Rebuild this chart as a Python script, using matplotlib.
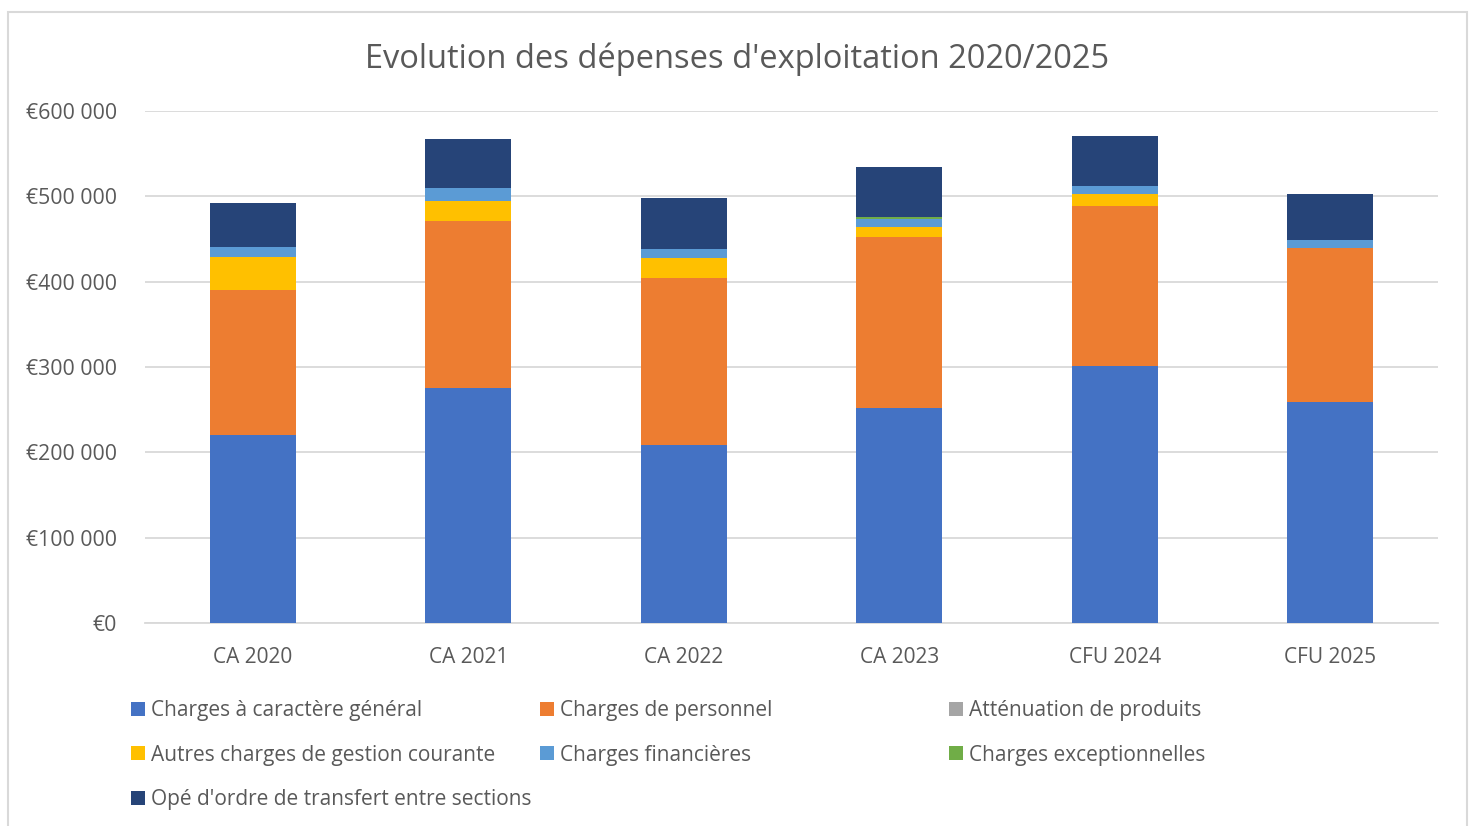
import matplotlib
matplotlib.use("Agg")
import matplotlib.pyplot as plt
from matplotlib.patches import Rectangle, Patch
from matplotlib.ticker import FuncFormatter, MultipleLocator
import numpy as np

plt.rcParams['font.family'] = ['Open Sans', 'DejaVu Sans']

categories = ["CA 2020", "CA 2021", "CA 2022", "CA 2023", "CFU 2024", "CFU 2025"]
series_names = ["Charges à caractère général", "Charges de personnel", "Atténuation de produits",
                "Autres charges de gestion courante", "Charges financières",
                "Charges exceptionnelles", "Opé d'ordre de transfert entre sections"]
charges_generales = [220300, 275400, 208600, 252000, 301200, 259000]
charges_personnel = [170000, 196100, 196100, 200000, 187100, 180500]
attenuation = [0, 0, 0, 0, 0, 0]
autres_charges = [38700, 23000, 22700, 12500, 14500, 0]
charges_financieres = [11700, 15200, 10900, 9000, 9800, 9400]
charges_exceptionnelles = [0, 0, 0, 2300, 0, 0]
ope_ordre = [51600, 57400, 59800, 58700, 58600, 53900]
colors = ["#4472C4", "#ED7D31", "#A5A5A5", "#FFC000", "#5B9BD5", "#70AD47", "#264478"]

W, H = 1472, 826
fig = plt.figure(figsize=(W / 100, H / 100), dpi=100)
ax = fig.add_axes([145 / W, 1 - 623 / H, (1438 - 145) / W, (623 - 111) / H])

data = [charges_generales, charges_personnel, attenuation, autres_charges,
        charges_financieres, charges_exceptionnelles, ope_ordre]
x = np.arange(len(categories))
bottom = np.zeros(len(categories))
handles = []
for name, vals, c in zip(series_names, data, colors):
    vals = np.array(vals, dtype=float)
    ax.bar(x, vals, bottom=bottom, width=0.4, color=c, linewidth=0, zorder=3)
    bottom += vals
    handles.append(Patch(facecolor=c, edgecolor='none', label=name))

ax.set_xlim(-0.5, len(categories) - 0.5)
ax.set_ylim(0, 600000)
ax.yaxis.set_major_locator(MultipleLocator(100000))
ax.yaxis.set_major_formatter(FuncFormatter(lambda v, p: "€0" if v == 0 else "€" + f"{v:,.0f}".replace(",", " ")))
ax.set_xticks(x)
ax.set_xticklabels(categories)
ax.grid(axis='y', color='#d9d9d9', linewidth=1.3, zorder=0)
for s in ['top', 'right', 'left']:
    ax.spines[s].set_visible(False)
ax.spines['bottom'].set_color('#d9d9d9')
ax.spines['bottom'].set_linewidth(1.3)
ax.tick_params(axis='both', length=0, colors='#595959')
ax.tick_params(axis='y', pad=20, labelsize=15.3)
ax.tick_params(axis='x', pad=17.5, labelsize=15)

fig.text(737 / W, 1 - 59 / H, "Evolution des dépenses d'exploitation 2020/2025",
         ha='center', va='center', fontsize=23.5, color='#595959')

# chart border
fig.patches.append(Rectangle((8 / W, -0.01), (1467 - 8) / W, 1 - 12 / H + 0.01,
                             transform=fig.transFigure, fill=False,
                             edgecolor='#d9d9d9', linewidth=1.5))

cols = [[0, 3, 6], [1, 4], [2, 5]]
col_x = [131, 540, 949]
for cx, idxs in zip(col_x, cols):
    fig.legend([handles[i] for i in idxs], [series_names[i] for i in idxs],
               loc='upper left', bbox_to_anchor=(cx / W, 1 - 700 / H),
               frameon=False, fontsize=15, labelcolor='#595959',
               handlelength=0.65, handleheight=0.65, handletextpad=0.3,
               labelspacing=1.14, borderpad=0, borderaxespad=0)

fig.savefig("out.png", dpi=100)
